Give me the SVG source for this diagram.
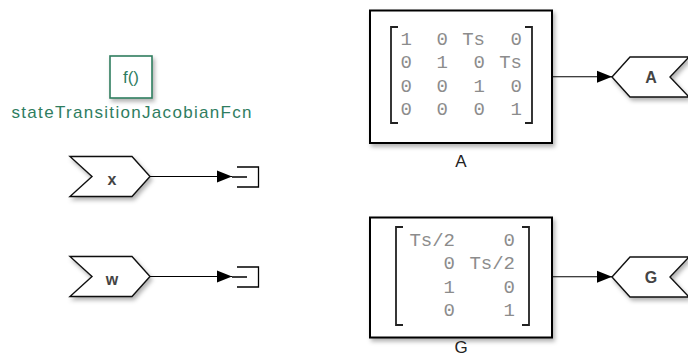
<svg xmlns="http://www.w3.org/2000/svg" width="688" height="358" viewBox="0 0 688 358">
<style>
.lbl{font-family:"Liberation Sans",Arial,sans-serif;font-size:17px;fill:#222;text-anchor:middle}
.tag{font-family:"Liberation Sans",Arial,sans-serif;font-size:16px;font-weight:bold;fill:#444;text-anchor:middle}
.mat{font-family:"Liberation Mono","Courier New",monospace;font-size:19px;fill:#8c8c8c;text-anchor:end}
.blk{fill:#fff;stroke:#000;stroke-width:2}
.shape{fill:#fff;stroke:#111;stroke-width:1.4;stroke-linejoin:miter}
.brk{fill:none;stroke:#222;stroke-width:1.8}
.wire{fill:none;stroke:#000;stroke-width:1.1}
.term{fill:none;stroke:#000;stroke-width:1.3}
.green{fill:#fff;stroke:#2f7d5f;stroke-width:1.6}
.gtxt{font-family:"Liberation Sans",Arial,sans-serif;fill:#2f7d5f;text-anchor:middle}
</style>
<defs>
<filter id="sh" x="-10%" y="-10%" width="130%" height="130%">
<feDropShadow dx="2" dy="3" stdDeviation="2" flood-color="#000" flood-opacity="0.3"/>
</filter>
<marker id="arr" markerUnits="userSpaceOnUse" markerWidth="16" markerHeight="14" refX="15" refY="7" orient="auto">
<path d="M0,1 L15,7 L0,13 Z" fill="#000"/>
</marker>
</defs>
<rect width="688" height="358" fill="#fff"/>

<g id="fcn">
<rect class="green" x="110" y="56" width="42" height="42" filter="url(#sh)"/>
<text class="gtxt" x="131" y="83" font-size="17">f()</text>
<text class="gtxt" x="131.5" y="118" font-size="17" textLength="240" lengthAdjust="spacing">stateTransitionJacobianFcn</text>
</g>

<g id="from_x">
<polygon class="shape" points="70,156.5 132,156.5 150,176.5 132,196.5 70,196.5 92,176.5" filter="url(#sh)"/>
<text class="tag" x="112" y="185">x</text>
</g>
<g id="from_w">
<polygon class="shape" points="70,256.5 132,256.5 150,276.5 132,296.5 70,296.5 92,276.5" filter="url(#sh)"/>
<text class="tag" x="112" y="285">w</text>
</g>

<g id="term_x">
<path class="term" d="M237,167 H258.5 V187 H237 M232,177 H247"/>
</g>
<g id="term_w">
<path class="term" d="M237,267 H258.5 V287 H237 M232,277 H247"/>
</g>

<g id="matA">
<rect class="blk" x="370" y="10.5" width="182" height="132.5" filter="url(#sh)"/>
<path class="brk" d="M398,27 H391 V123 H398 M525,27 H532 V123 H525"/>
<text class="mat" x="412" y="45">1</text><text class="mat" x="448" y="45">0</text><text class="mat" x="485" y="45">Ts</text><text class="mat" x="522" y="45">0</text>
<text class="mat" x="412" y="68.3">0</text><text class="mat" x="448" y="68.3">1</text><text class="mat" x="485" y="68.3">0</text><text class="mat" x="522" y="68.3">Ts</text>
<text class="mat" x="412" y="91.7">0</text><text class="mat" x="448" y="91.7">0</text><text class="mat" x="485" y="91.7">1</text><text class="mat" x="522" y="91.7">0</text>
<text class="mat" x="412" y="115">0</text><text class="mat" x="448" y="115">0</text><text class="mat" x="485" y="115">0</text><text class="mat" x="522" y="115">1</text>
<text class="lbl" x="461" y="167">A</text>
</g>

<g id="matG">
<rect class="blk" x="370" y="217.5" width="182" height="120" filter="url(#sh)"/>
<path class="brk" d="M403,227 H396 V325 H403 M522,227 H529 V325 H522"/>
<text class="mat" x="455" y="246">Ts/2</text><text class="mat" x="515" y="246">0</text>
<text class="mat" x="455" y="269.3">0</text><text class="mat" x="515" y="269.3">Ts/2</text>
<text class="mat" x="455" y="292.7">1</text><text class="mat" x="515" y="292.7">0</text>
<text class="mat" x="455" y="316">0</text><text class="mat" x="515" y="316">1</text>
<text class="lbl" x="461" y="353">G</text>
</g>

<g id="goto_A">
<polygon class="shape" points="612,77 630,57 689,57 670,77 689,97 630,97" filter="url(#sh)"/>
<text class="tag" x="651" y="82.5">A</text>
</g>
<g id="goto_G">
<polygon class="shape" points="612,277 630,257 689,257 670,277 689,297 630,297" filter="url(#sh)"/>
<text class="tag" x="651" y="282.5">G</text>
</g>

<g id="connectors">
<path class="wire" d="M150,176.5 H232" marker-end="url(#arr)"/>
<path class="wire" d="M150,276.5 H232" marker-end="url(#arr)"/>
<path class="wire" d="M553,76.7 H612" marker-end="url(#arr)"/>
<path class="wire" d="M553,276.7 H612" marker-end="url(#arr)"/>
</g>
</svg>
